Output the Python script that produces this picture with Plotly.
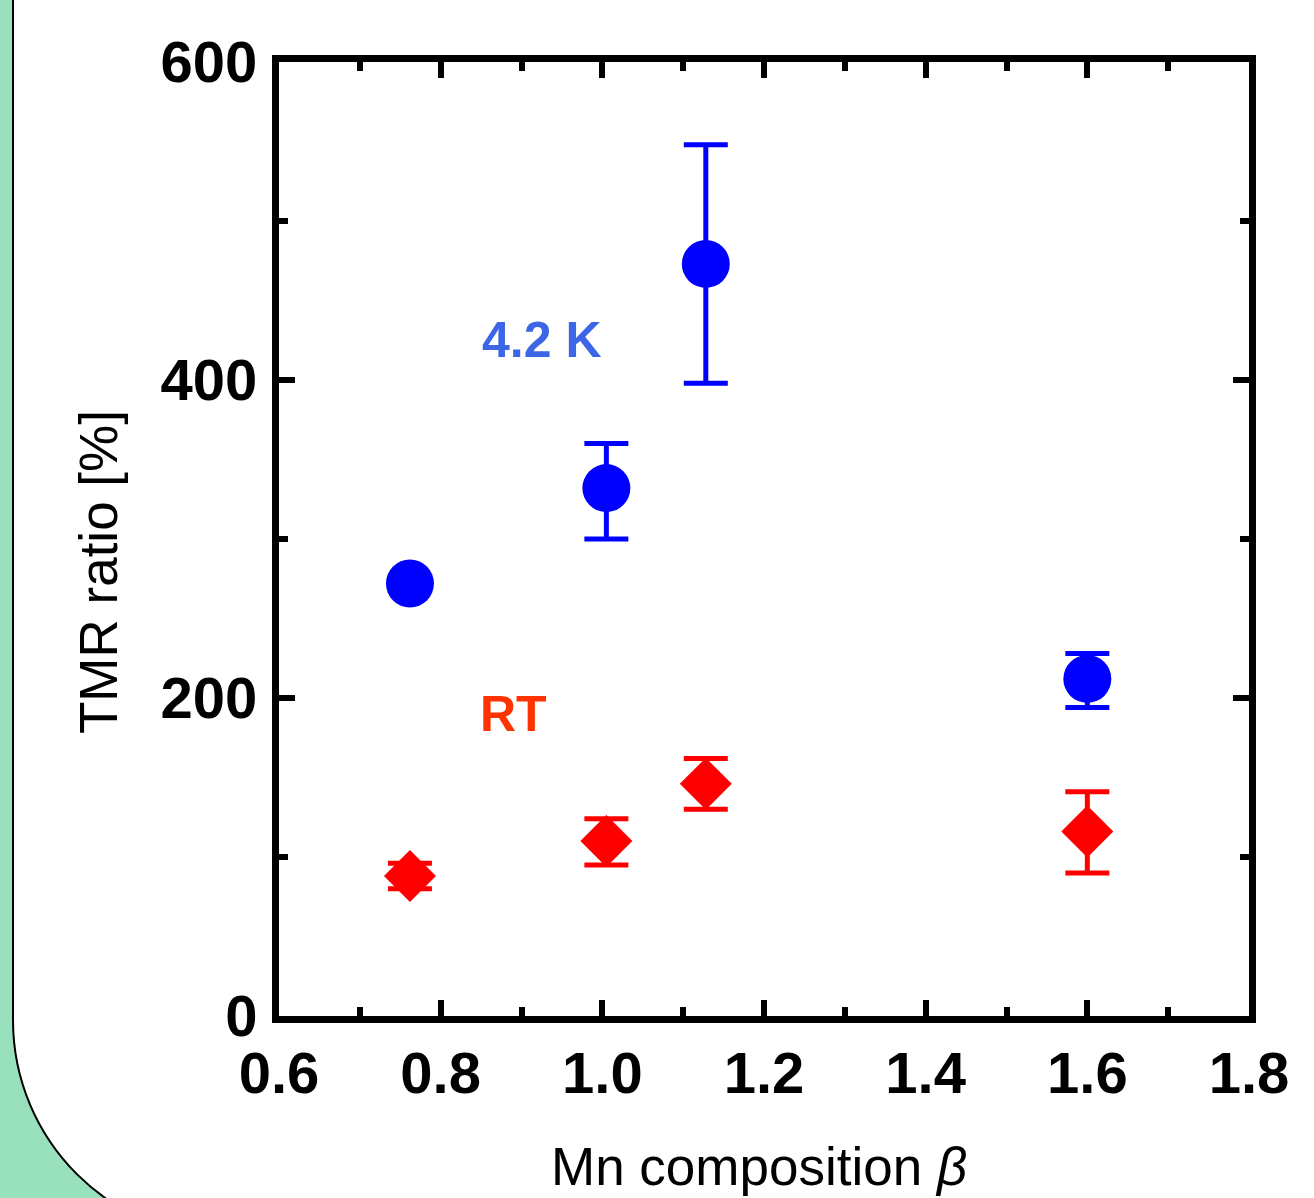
import plotly.graph_objects as go

# ---- data ----
beta = [0.762, 1.005, 1.128, 1.60]
tmr_4k = [272, 332, 473, 212]
tmr_4k_err_plus = [0, 28, 75, 16]
tmr_4k_err_minus = [0, 32, 75, 18]
tmr_rt = [88, 110, 146, 116]
tmr_rt_err_plus = [8, 14, 16, 25]
tmr_rt_err_minus = [8, 15, 16, 26]
x_ticks = [0.6, 0.8, 1.0, 1.2, 1.4, 1.6, 1.8]
y_ticks = [0, 200, 400, 600]

W, H = 1314, 1198
ML, MR, MT, MB = 279, 65, 62, 182
PW, PH = W - ML - MR, H - MT - MB


def px(x):
    return (x - ML) / PW


def py(y):
    return (H - MB - y) / PH


FONT = "Liberation Sans, Arial, sans-serif"

fig = go.Figure()

fig.add_trace(go.Scatter(
    x=beta, y=tmr_4k, mode="markers",
    marker=dict(symbol="circle", size=48, color="#0000FF"),
    error_y=dict(type="data", symmetric=False, array=tmr_4k_err_plus,
                 arrayminus=tmr_4k_err_minus, color="#0000FF",
                 thickness=5, width=22),
    showlegend=False, cliponaxis=False,
))
fig.add_trace(go.Scatter(
    x=beta, y=tmr_rt, mode="markers",
    marker=dict(symbol="diamond", size=40, color="#FF0000"),
    error_y=dict(type="data", symmetric=False, array=tmr_rt_err_plus,
                 arrayminus=tmr_rt_err_minus, color="#FF0000",
                 thickness=5, width=22),
    showlegend=False, cliponaxis=False,
))

# background panel (white rounded card on green)
x0, y0, r = 13, 1020, 218
path = (f"M {px(x0)},{py(-20)} L {px(x0)},{py(y0)} "
        f"C {px(x0)},{py(y0 + 0.552 * r)} {px(x0 + r - 0.552 * r)},{py(y0 + r)} {px(x0 + r)},{py(y0 + r)} "
        f"L {px(W + 20)},{py(y0 + r)} L {px(W + 20)},{py(-20)} Z")
fig.add_shape(type="path", xref="paper", yref="paper", path=path,
              fillcolor="white", line=dict(color="black", width=2), layer="below")

axis_common = dict(
    showline=True, linecolor="black", linewidth=7, mirror="ticks",
    ticks="inside", ticklen=16, tickwidth=6, tickcolor="black",
    showgrid=False, zeroline=False,
    tickfont=dict(family=FONT, size=58, color="black", weight="bold"),
)

fig.update_xaxes(range=[0.6, 1.8], tickvals=x_ticks,
                 ticktext=[f"{v:.1f}" for v in x_ticks],
                 minor=dict(ticks="inside", dtick=0.1, ticklen=9, tickwidth=6, tickcolor="black"),
                 ticklabelstandoff=0, **axis_common)
fig.update_yaxes(range=[0, 600], tickvals=y_ticks,
                 minor=dict(ticks="inside", dtick=100, ticklen=9, tickwidth=6, tickcolor="black"),
                 ticklabelstandoff=3, **axis_common)

fig.add_annotation(x=0.925, y=425, xref="x", yref="y", text="<b>4.2 K</b>",
                   showarrow=False, font=dict(family=FONT, size=50, color="#3D66E6"))
fig.add_annotation(x=0.89, y=190, xref="x", yref="y", text="<b>RT</b>",
                   showarrow=False, font=dict(family=FONT, size=50, color="#FF3300"))

# axis titles
fig.add_annotation(x=px(98), y=py(572), xref="paper", yref="paper",
                   xanchor="center", yanchor="middle",
                   text="TMR ratio [%]", textangle=-90, showarrow=False,
                   font=dict(family=FONT, size=53, color="black"))
fig.add_annotation(x=px(759), y=py(1186), xref="paper", yref="paper",
                   xanchor="center", yanchor="bottom", yshift=-12,
                   text="Mn composition <i>β</i>", showarrow=False,
                   font=dict(family=FONT, size=53, color="black"))

fig.update_layout(
    width=W, height=H,
    margin=dict(l=ML, r=MR, t=MT, b=MB),
    paper_bgcolor="#99E0BC", plot_bgcolor="rgba(0,0,0,0)",
)

fig.write_html("out.html")
